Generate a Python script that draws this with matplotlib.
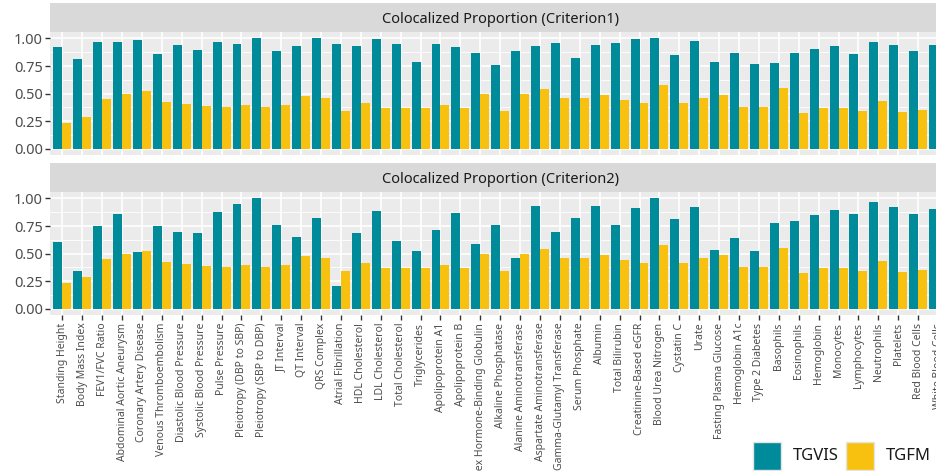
import matplotlib
matplotlib.use("Agg")
import matplotlib.pyplot as plt
import numpy as np
from matplotlib.patches import Rectangle

traits = [
    "Standing Height", "Body Mass Index", "FEV1/FVC Ratio", "Abdominal Aortic Aneurysm",
    "Coronary Artery Disease", "Venous Thromboembolism", "Diastolic Blood Pressure",
    "Systolic Blood Pressure", "Pulse Pressure", "Pleiotropy (DBP to SBP)",
    "Pleiotropy (SBP to DBP)", "JT Interval", "QT Interval", "QRS Complex",
    "Atrial Fibrillation", "HDL Cholesterol", "LDL Cholesterol", "Total Cholesterol",
    "Triglycerides", "Apolipoprotein A1", "Apolipoprotein B",
    "Sex Hormone-Binding Globulin", "Alkaline Phosphatase", "Alanine Aminotransferase",
    "Aspartate Aminotransferase", "Gamma-Glutamyl Transferase", "Serum Phosphate",
    "Albumin", "Total Bilirubin", "Creatinine-Based eGFR", "Blood Urea Nitrogen",
    "Cystatin C", "Urate", "Fasting Plasma Glucose", "Hemoglobin A1c",
    "Type 2 Diabetes", "Basophils", "Eosinophils", "Hemoglobin", "Monocytes",
    "Lymphocytes", "Neutrophils", "Platelets", "Red Blood Cells", "White Blood Cells",
]

tgvis_crit1 = [
    0.924, 0.812, 0.964, 0.964, 0.982, 0.858, 0.939, 0.897, 0.964, 0.952,
    1.000, 0.888, 0.930, 1.000, 0.948, 0.930, 0.991, 0.945, 0.788, 0.948,
    0.918, 0.867, 0.755, 0.885, 0.930, 0.961, 0.827, 0.936, 0.961, 0.994,
    1.000, 0.852, 0.976, 0.785, 0.864, 0.764, 0.779, 0.867, 0.906, 0.933,
    0.858, 0.967, 0.942, 0.882, 0.942,
]

tgvis_crit2 = [
    0.609, 0.339, 0.748, 0.858, 0.512, 0.748, 0.694, 0.685, 0.879, 0.952,
    1.000, 0.761, 0.655, 0.824, 0.206, 0.685, 0.888, 0.618, 0.524, 0.718,
    0.867, 0.588, 0.755, 0.458, 0.927, 0.697, 0.827, 0.933, 0.758, 0.915,
    1.000, 0.815, 0.921, 0.530, 0.645, 0.524, 0.779, 0.791, 0.848, 0.897,
    0.855, 0.967, 0.921, 0.861, 0.903,
]

tgfm = [
    0.239, 0.291, 0.448, 0.497, 0.527, 0.424, 0.406, 0.385, 0.376, 0.394,
    0.376, 0.394, 0.476, 0.464, 0.345, 0.412, 0.370, 0.370, 0.370, 0.397,
    0.367, 0.497, 0.342, 0.497, 0.542, 0.461, 0.461, 0.485, 0.439, 0.412,
    0.579, 0.418, 0.464, 0.485, 0.379, 0.376, 0.548, 0.324, 0.373, 0.370,
    0.345, 0.430, 0.330, 0.355, 0.350,
]

panel_titles = ["Colocalized Proportion (Criterion1)", "Colocalized Proportion (Criterion2)"]
methods = ["TGVIS", "TGFM"]
colors = {"TGVIS": "#008B9B", "TGFM": "#F9C10F"}

W, H = 936, 471
FONT = ["Noto Sans", "DejaVu Sans"]
plt.rcParams["font.family"] = FONT

fig = plt.figure(figsize=(W / 100, H / 100), dpi=100)

# panel geometry in pixels (top-down); the plot runs past the right edge
left_px, right_px = 50.4, 950.0
panels_px = [(32.3, 155.0), (192.3, 315.0)]
strip_h = 29.0

x = np.arange(len(traits))
bw = 0.45

for k, (top, bot) in enumerate(panels_px):
    ax = fig.add_axes([left_px / W, 1 - bot / H, (right_px - left_px) / W, (bot - top) / H])
    ax.set_facecolor("#EBEBEB")
    for s in ax.spines.values():
        s.set_visible(False)
    ax.set_xlim(-0.6, len(traits) - 1 + 0.6)
    ax.set_ylim(-0.055, 1.055)
    ax.set_axisbelow(True)

    # grid
    for yv in [0.125, 0.375, 0.625, 0.875]:
        ax.axhline(yv, color="white", lw=0.6, zorder=0)
    for yv in [0, 0.25, 0.5, 0.75, 1.0]:
        ax.axhline(yv, color="white", lw=1.2, zorder=0)
    for xv in x:
        ax.axvline(xv, color="white", lw=1.2, zorder=0)

    vis = tgvis_crit1 if k == 0 else tgvis_crit2
    ax.bar(x - bw / 2, vis, width=bw, color=colors["TGVIS"], zorder=2, linewidth=0)
    ax.bar(x + bw / 2, tgfm, width=bw, color=colors["TGFM"], zorder=2, linewidth=0)

    ax.set_yticks([0, 0.25, 0.5, 0.75, 1.0])
    ax.set_yticklabels(["0.00", "0.25", "0.50", "0.75", "1.00"])
    ax.tick_params(axis="y", length=3.5, width=1.0, color="#333333",
                   labelsize=10.5, labelcolor="#4D4D4D", pad=2)
    ax.set_xticks(x)
    if k == 1:
        ax.set_xticklabels(traits, rotation=90, fontsize=7.5, color="#4D4D4D")
        ax.tick_params(axis="x", length=3.5, width=1.0, color="#333333", pad=2)
    else:
        ax.set_xticklabels([])
        ax.tick_params(axis="x", length=0)

    # facet strip
    sax = fig.add_axes([left_px / W, 1 - top / H, (right_px - left_px) / W, strip_h / H])
    sax.set_facecolor("#D9D9D9")
    sax.set_xticks([])
    sax.set_yticks([])
    for s in sax.spines.values():
        s.set_visible(False)
    sax.text(0.5, 0.45, panel_titles[k], ha="center", va="center",
             fontsize=10.5, color="#1A1A1A", transform=sax.transAxes)

# legend
lx = [753, 845.7]
for i, m in enumerate(methods):
    x0 = lx[i]
    fig.patches.append(Rectangle((x0 / W, 1 - 470 / H), 28 / W, 28 / H,
                                 transform=fig.transFigure, facecolor=colors[m],
                                 edgecolor="#E5E5E5", linewidth=1.0))
    fig.text((x0 + 40) / W, 1 - 456 / H, m, ha="left", va="center",
             fontsize=12, color="#1A1A1A")

fig.savefig("out.png", dpi=100)
